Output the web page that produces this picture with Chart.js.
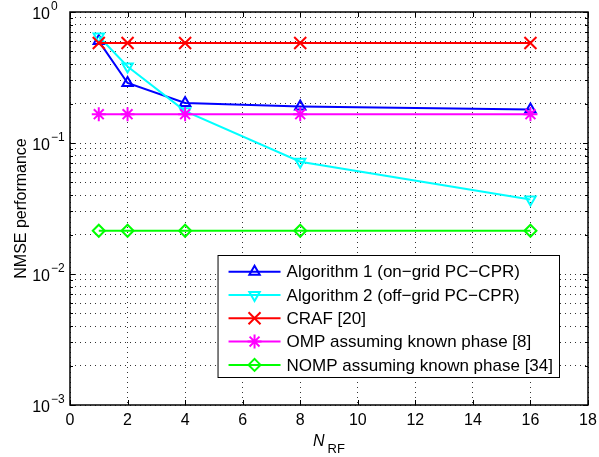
<!DOCTYPE html>
<html>
<head>
<meta charset="utf-8">
<script src="https://cdn.jsdelivr.net/npm/chart.js@4.4.0/dist/chart.umd.min.js"></script>
<style>
  body { margin: 0; background: #fff; }
</style>
</head>
<body>
<canvas id="c" width="599" height="457"></canvas>
<script>
// data
const nRF = [1, 2, 4, 8, 16];
const alg1 = [0.60, 0.287, 0.202, 0.19, 0.18];
const alg2 = [0.65, 0.384, 0.175, 0.072, 0.037];
const craf = [0.58, 0.58, 0.58, 0.58, 0.58];
const omp = [0.166, 0.166, 0.166, 0.166, 0.166];
const nomp = [0.0214, 0.0214, 0.0214, 0.0214, 0.0214];

const xTicks = [0, 2, 4, 6, 8, 10, 12, 14, 16, 18];
const yDecades = [-3, -2, -1, 0];

const FONT = '"Liberation Sans", Arial, Helvetica, sans-serif';

const pts = (vals) => vals.map((v, i) => ({ x: nRF[i], y: v }));

// one entry per curve: label, colour, marker
const series = [
  { label: "Algorithm 1 (on\u2212grid PC\u2212CPR)", data: alg1, color: "#0000ff", style: "triangle", rot: 0, r: 6 },
  { label: "Algorithm 2 (off\u2212grid PC\u2212CPR)", data: alg2, color: "#00ffff", style: "triangle", rot: 180, r: 6 },
  { label: "CRAF [20]", data: craf, color: "#ff0000", style: "crossRot", rot: 0, r: 8.5 },
  { label: "OMP assuming known phase [8]", data: omp, color: "#ff00ff", style: "star", rot: 0, r: 7 },
  { label: "NOMP assuming known phase [34]", data: nomp, color: "#00ff00", style: "rectRot", rot: 0, r: 6 },
];

const datasets = series.map((s, i) => ({
  label: s.label,
  data: pts(s.data),
  borderColor: s.color,
  backgroundColor: "rgba(0,0,0,0)",
  borderWidth: 2,
  pointStyle: s.style,
  pointRotation: s.rot,
  pointRadius: s.r,
  pointHoverRadius: s.r,
  pointBorderWidth: 2,
  pointBackgroundColor: "rgba(0,0,0,0)",
  tension: 0,
  order: series.length - i,
}));

// axes box, inside ticks, y labels with exponents, axis titles, legend
const matlabAxes = {
  id: "matlabAxes",
  afterDraw(chart) {
    const { ctx, chartArea: a, scales } = chart;
    const x = scales.x, y = scales.y;
    ctx.save();

    // tick marks inside the box
    ctx.strokeStyle = "#000";
    ctx.lineWidth = 1;
    ctx.beginPath();
    xTicks.forEach((t) => {
      const px = Math.round(x.getPixelForValue(t)) + 0.5;
      ctx.moveTo(px, a.bottom); ctx.lineTo(px, a.bottom - 5);
      ctx.moveTo(px, a.top); ctx.lineTo(px, a.top + 5);
    });
    y.ticks.forEach((t) => {
      const py = Math.round(y.getPixelForValue(t.value)) + 0.5;
      const len = t.major ? 5 : 3;
      ctx.moveTo(a.left, py); ctx.lineTo(a.left + len, py);
      ctx.moveTo(a.right, py); ctx.lineTo(a.right - len, py);
    });
    ctx.stroke();

    // box
    ctx.lineWidth = 1.5;
    ctx.strokeRect(a.left, a.top, a.right - a.left, a.bottom - a.top);

    // y tick labels 10^e
    ctx.fillStyle = "#000";
    yDecades.forEach((e) => {
      const py = y.getPixelForValue(Math.pow(10, e));
      ctx.font = "16px " + FONT;
      ctx.textAlign = "right";
      ctx.textBaseline = "middle";
      ctx.fillText("10", a.left - 20, py + 3);
      ctx.font = "12px " + FONT;
      ctx.textAlign = "left";
      ctx.fillText(e === 0 ? "0" : "\u2212" + (-e), a.left - 19, py - 5);
    });

    // y title
    ctx.save();
    ctx.translate(22, (a.top + a.bottom) / 2);
    ctx.rotate(-Math.PI / 2);
    ctx.font = "16px " + FONT;
    ctx.textAlign = "center";
    ctx.textBaseline = "middle";
    ctx.fillText("NMSE performance", 0, 0);
    ctx.restore();

    // x title: italic N with subscript RF
    ctx.font = "italic 16px " + FONT;
    const wN = ctx.measureText("N").width;
    ctx.font = "13px " + FONT;
    const wRF = ctx.measureText("RF").width;
    const x0 = (a.left + a.right) / 2 - (wN + 3 + wRF) / 2;
    ctx.textAlign = "left";
    ctx.textBaseline = "alphabetic";
    ctx.font = "italic 16px " + FONT;
    ctx.fillText("N", x0, 446);
    ctx.font = "13px " + FONT;
    ctx.fillText("RF", x0 + wN + 3, 453);

    // legend
    ctx.font = "17px " + FONT;
    const textW = Math.max(...series.map((s) => ctx.measureText(s.label).width));
    const boxW = 69 + textW + 6;
    const rowH = 23.3;
    const boxH = 122;
    const bx = a.right - 29 - boxW;
    const by = a.bottom - 28 - boxH;
    ctx.fillStyle = "#fff";
    ctx.fillRect(bx, by, boxW, boxH);
    ctx.strokeStyle = "#000";
    ctx.lineWidth = 1;
    ctx.strokeRect(bx + 0.5, by + 0.5, boxW, boxH);
    series.forEach((s, i) => {
      const cy = by + 16.7 + i * rowH;
      ctx.strokeStyle = s.color;
      ctx.lineWidth = 2;
      ctx.beginPath();
      ctx.moveTo(bx + 11, cy);
      ctx.lineTo(bx + 63, cy);
      ctx.stroke();
      ctx.fillStyle = "rgba(0,0,0,0)";
      Chart.helpers.drawPoint(ctx, { pointStyle: s.style, rotation: s.rot, radius: s.r, borderWidth: 2 }, bx + 37, cy);
      ctx.fillStyle = "#000";
      ctx.textAlign = "left";
      ctx.textBaseline = "middle";
      ctx.fillText(s.label, bx + 69, cy + 1);
    });

    ctx.restore();
  },
};

new Chart(document.getElementById("c"), {
  type: "line",
  data: { datasets },
  options: {
    responsive: false,
    animation: false,
    layout: { padding: { left: 0, top: 12, right: 11, bottom: 0 } },
    plugins: { legend: { display: false }, tooltip: { enabled: false } },
    scales: {
      x: {
        type: "linear",
        min: 0,
        max: 18,
        ticks: { stepSize: 2, color: "#000", font: { size: 16, family: FONT }, padding: 6, maxRotation: 0 },
        grid: { color: "#333", drawTicks: false, lineWidth: 1 },
        border: { display: false, dash: [1, 4] },
        afterFit: (s) => { s.height = 52; s.paddingLeft = 0; s.paddingRight = 0; },
      },
      y: {
        type: "logarithmic",
        min: 0.001,
        max: 1,
        ticks: { display: false },
        grid: { color: "#333", drawTicks: false, lineWidth: 1 },
        border: { display: false, dash: [1, 4] },
        afterBuildTicks: (scale) => {
          const t = [];
          yDecades.forEach((e) => {
            const maxM = e === 0 ? 1 : 9;
            for (let m = 1; m <= maxM; m++) t.push({ value: m * Math.pow(10, e), major: m === 1 });
          });
          scale.ticks = t;
        },
        afterFit: (s) => { s.width = 70; s.paddingTop = 0; s.paddingBottom = 0; },
      },
    },
  },
  plugins: [matlabAxes],
});
</script>
</body>
</html>
